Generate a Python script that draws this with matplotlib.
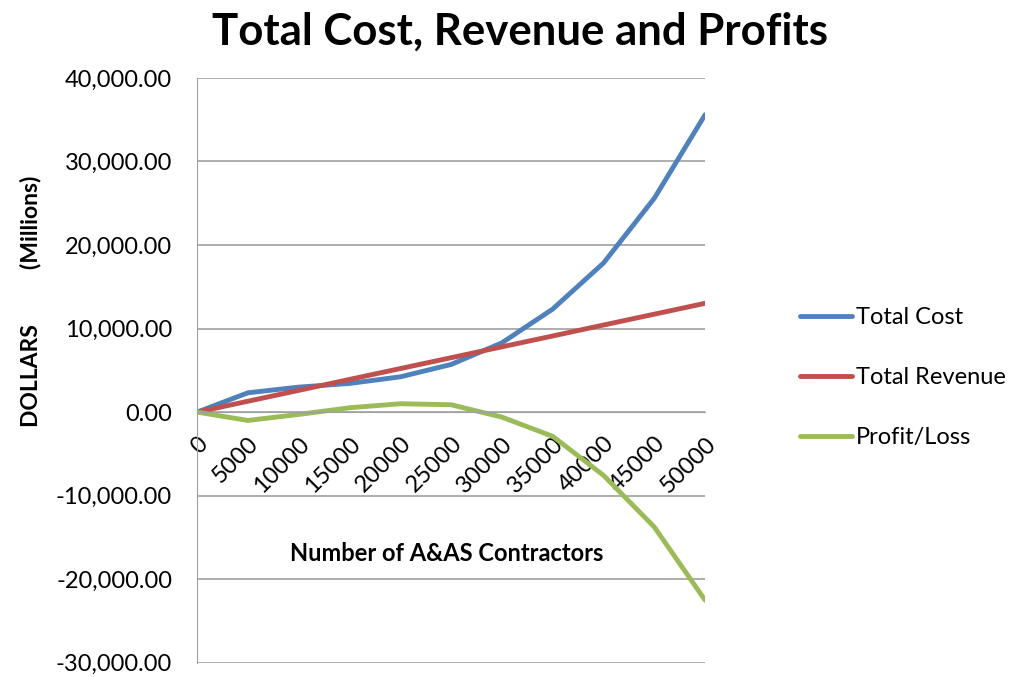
import matplotlib.pyplot as plt
from matplotlib.ticker import FuncFormatter

# data (millions of dollars)
contractors = ['0', '5000', '10000', '15000', '20000', '25000', '30000',
               '35000', '40000', '45000', '50000']
total_cost = [0, 2310, 2990, 3430, 4220, 5700, 8290, 12330, 17840, 25590, 35590]
total_revenue = [0, 1300, 2600, 3910, 5210, 6510, 7810, 9110, 10420, 11720, 13020]
profit_loss = [0, -1000, -280, 520, 1000, 880, -600, -2900, -7570, -13750, -22510]
y_ticks = [-30000, -20000, -10000, 0, 10000, 20000, 30000, 40000]

plt.rcParams['font.family'] = ['Lato', 'DejaVu Sans']

fig = plt.figure(figsize=(10.16, 6.77), dpi=100)
ax = fig.add_axes([0.194, 0.021, 0.5, 0.864])

x = list(range(len(contractors)))
ax.plot(x, total_cost, color='#4F81BD', linewidth=3.5, label='Total Cost', solid_capstyle='round')
ax.plot(x, total_revenue, color='#C0504D', linewidth=3.5, label='Total Revenue', solid_capstyle='round')
ax.plot(x, profit_loss, color='#9BBB59', linewidth=3.5, label='Profit/Loss', solid_capstyle='round')

ax.set_xlim(0, len(contractors) - 1)
ax.set_ylim(-30000, 40000)
ax.set_yticks(y_ticks)
ax.yaxis.set_major_formatter(FuncFormatter(lambda v, p: f'{v:,.2f}'))
ax.grid(True, axis='y', color='#A0A0A0', linewidth=1.2)
ax.set_axisbelow(True)

# x axis crosses at zero, like Excel
ax.spines['bottom'].set_position(('data', 0))
ax.spines['bottom'].set_color('#A0A0A0')
ax.spines['left'].set_color('#A0A0A0')
ax.spines['top'].set_visible(False)
ax.spines['right'].set_visible(False)
ax.set_xticks(x)
ax.set_xticklabels(contractors, rotation=45, ha='right', va='top', rotation_mode='anchor')
ax.tick_params(axis='x', length=0, pad=15, labelsize=17)
ax.tick_params(axis='y', length=0, pad=18, labelsize=17)

fig.text(0.512, 0.953, 'Total Cost, Revenue and Profits', ha='center', va='center',
         fontsize=31.5, fontweight='bold')
fig.text(0.44, 0.183, 'Number of A&AS Contractors', ha='center', va='center',
         fontsize=17, fontweight='bold')
fig.text(0.03, 0.555, 'DOLLARS          (Millions)', rotation=90, ha='center', va='center',
         fontsize=16.5, fontweight='bold')

fig.legend(loc='center left', bbox_to_anchor=(0.787, 0.442), frameon=False, fontsize=17,
           handlelength=2.2, handletextpad=0.2, labelspacing=1.65,
           borderpad=0, borderaxespad=0)

fig.savefig('out.png', dpi=100)
